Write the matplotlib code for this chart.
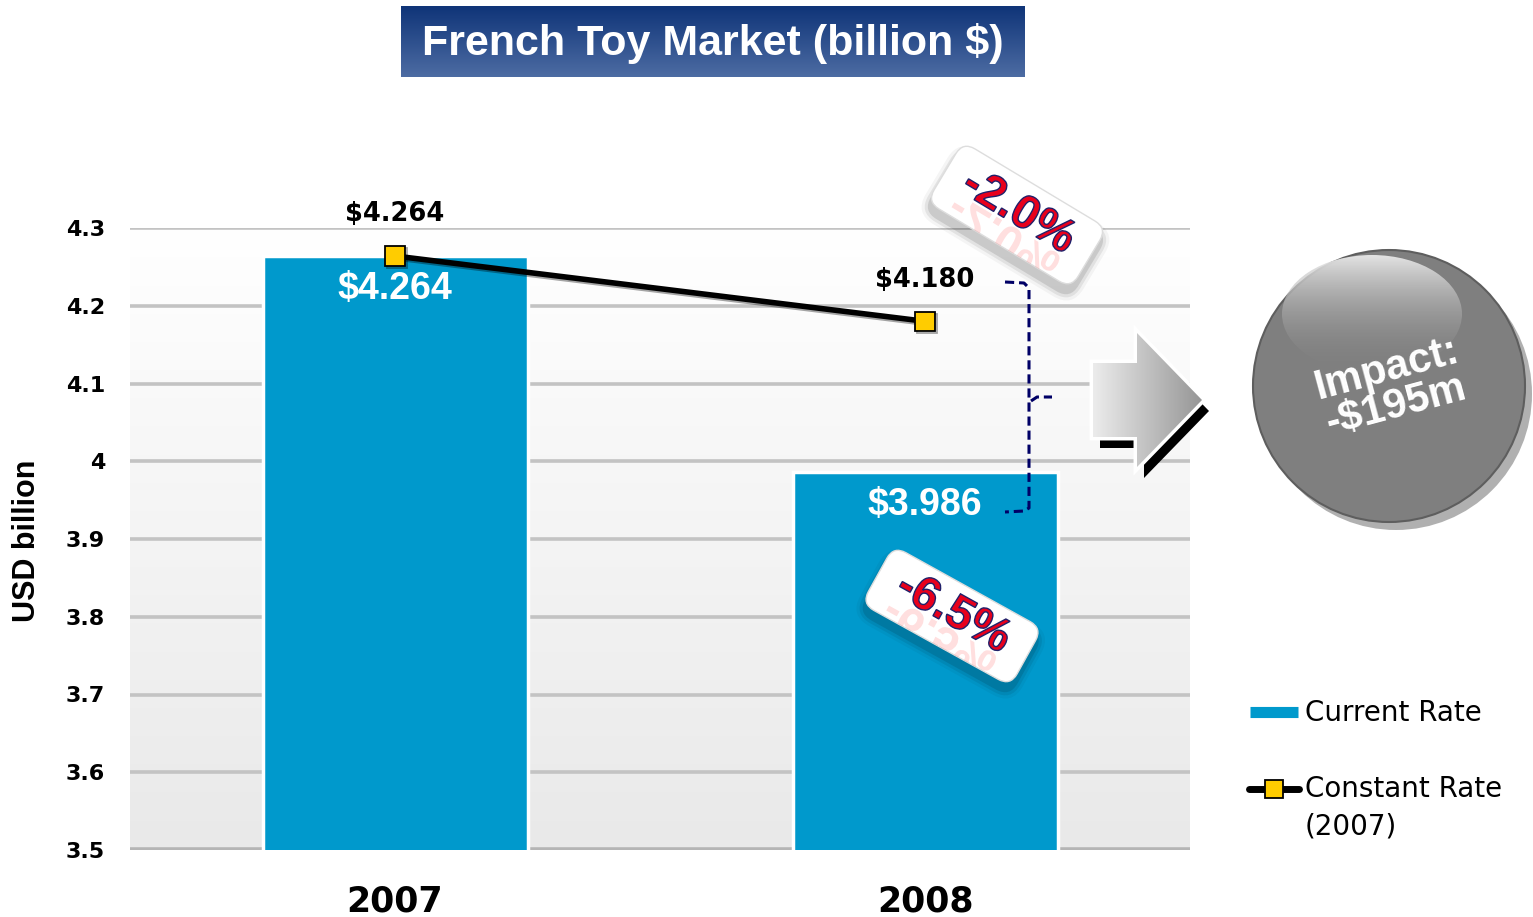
import numpy as np
import matplotlib
matplotlib.use("Agg")
import matplotlib.pyplot as plt
from matplotlib.patches import FancyBboxPatch, Polygon, Circle, Ellipse, Rectangle, PathPatch
from matplotlib.transforms import Affine2D
from matplotlib.textpath import TextPath
from matplotlib.font_manager import FontProperties
from matplotlib.colors import to_rgba
import matplotlib.patheffects as pe

# ---- data ----
years = ["2007", "2008"]
current_rate = [4.264, 3.986]
constant_rate = [4.264, 4.180]
y_ticks = [3.5, 3.6, 3.7, 3.8, 3.9, 4.0, 4.1, 4.2, 4.3]
y_tick_labels = ["3.5", "3.6", "3.7", "3.8", "3.9", "4", "4.1", "4.2", "4.3"]
constant_change = "-2.0%"
current_change = "-6.5%"
impact_text = "Impact:\n-$195m"
title_text = "French Toy Market (billion $)"
legend_labels = ["Current Rate", "Constant Rate\n(2007)"]

BAR_BLUE = "#0099cc"
MARKER_YELLOW = "#ffcc00"
ARIAL = "Liberation Sans"
VERDANA = "DejaVu Sans"

W, H = 1533, 917
fig = plt.figure(figsize=(W / 100, H / 100), dpi=100)
fig.patch.set_facecolor("white")

# ---- main chart ----
ax = fig.add_axes([130 / W, 1 - 850 / H, 1060 / W, 622 / H])
ax.set_xlim(-0.5, 1.5)
ax.set_ylim(3.5, 4.3)

# soft vertical gradient in the plot area
n = 256
t = np.linspace(0, 1, n)[:, None]
top_c = np.array(to_rgba("#ffffff"))
bot_c = np.array(to_rgba("#e9e9e9"))
bg = (top_c + (bot_c - top_c) * t)[:, None, :]
ax.imshow(bg, extent=(-0.5, 1.5, 3.5, 4.3), aspect="auto", origin="upper",
          zorder=0, interpolation="bicubic")

for yv in y_ticks[1:]:
    ax.axhline(yv, color="#c3c3c3", lw=2.6, zorder=1)
ax.axhline(3.5, color="#b5b5b5", lw=4, zorder=1)

x = np.arange(len(years))
ax.bar(x, current_rate, width=0.5, color=BAR_BLUE, edgecolor="white",
       linewidth=2.5, zorder=2)

ax.plot(x, constant_rate, color="black", lw=4, marker="s", ms=14,
        mfc=MARKER_YELLOW, mec="black", mew=1.3, zorder=4,
        path_effects=[pe.SimpleLineShadow(offset=(1.5, -1.5), alpha=0.35),
                      pe.Normal()])

for xi, v in zip(x, constant_rate):
    ax.annotate(f"${v:.3f}", (xi, v), xytext=(0, 30), textcoords="offset points",
                ha="center", va="center", fontsize=18.5, fontweight="bold",
                family=VERDANA, color="black", zorder=6)
for xi, v in zip(x, current_rate):
    ax.annotate(f"${v:.3f}", (xi, v), xytext=(0, -24), textcoords="offset points",
                ha="center", va="center", fontsize=27, fontweight="bold",
                family=ARIAL, color="white", zorder=6)

ax.set_yticks(y_ticks)
ax.set_yticklabels(y_tick_labels, fontsize=16, fontweight="bold", family=VERDANA)
ax.set_xticks(x)
ax.set_xticklabels(years, fontsize=25, fontweight="bold", family=VERDANA)
ax.tick_params(axis="y", length=0, pad=18)
ax.tick_params(axis="x", length=0, pad=25)
for s in ax.spines.values():
    s.set_visible(False)

fig.text(27 / W, 1 - 541 / H, "USD billion", rotation=90, ha="center", va="center",
         fontsize=22, fontweight="bold", family=ARIAL)

# ---- overlay in pixel coordinates for callouts ----
ov = fig.add_axes([0, 0, 1, 1])
ov.set_zorder(5)
ov.patch.set_alpha(0)
ov.axis("off")


def gradient_fill(patch, extent, c0, c1, vertical=True, z=1, alpha_end=None):
    ov.add_patch(patch)
    tt = np.linspace(0, 1, 256)[:, None]
    a = np.array(to_rgba(c0))
    b = np.array(to_rgba(c1))
    if alpha_end is not None:
        b[3] = alpha_end
    arr = a + (b - a) * tt
    img = arr[:, None, :] if vertical else arr[None, :, :]
    im = ov.imshow(img, extent=extent, aspect="auto", origin="upper",
                   zorder=z, interpolation="bicubic")
    im.set_clip_path(patch)
    return im


# title banner
title_box = Rectangle((401, 6), 624, 71, fc="none", ec="none", zorder=2)
gradient_fill(title_box, (401, 1025, 77, 6), "#0f3478", "#4d6ca3", z=2)
ov.text(713, 43, title_text, color="white", fontsize=31, fontweight="bold",
        family=ARIAL, ha="center", va="center", zorder=3)


def tag(cx, cy, w, h, angle, text, fs):
    rot = Affine2D().rotate_deg_around(cx, cy, angle) + ov.transData
    for grow, a in [(8, 0.04), (5, 0.07), (2, 0.11)]:
        sh = FancyBboxPatch((cx - w / 2 - grow + 3, cy - h / 2 - grow + 8),
                            w + 2 * grow, h + 2 * grow,
                            boxstyle=f"round,pad=0,rounding_size={14 + grow}",
                            fc="black", ec="none", alpha=a, zorder=6)
        sh.set_transform(rot)
        ov.add_patch(sh)
    box = FancyBboxPatch((cx - w / 2, cy - h / 2), w, h,
                         boxstyle="round,pad=0,rounding_size=14",
                         fc="white", ec="#dddddd", lw=1, zorder=7)
    box.set_transform(rot)
    ov.add_patch(box)

    fs_px = fs * 100 / 72
    prop = FontProperties(family=ARIAL, weight="bold")
    tp = TextPath((0, 0), text, size=fs_px, prop=prop)
    ext = tp.get_extents()
    cap = fs_px * 0.72
    lift = 8
    base_y = cy - lift + cap / 2
    # faint mirrored copy under the label
    refl_tr = (Affine2D().translate(-(ext.x0 + ext.x1) / 2, 0)
               .translate(cx, base_y + 3)
               .rotate_deg_around(cx, cy, angle) + ov.transData)
    refl = PathPatch(tp, fc="#ff8080", ec="none", alpha=0.25, zorder=8)
    refl.set_transform(refl_tr)
    ov.add_patch(refl)
    refl.set_clip_path(box)
    # main label
    main_tr = (Affine2D().scale(1, -1).translate(-(ext.x0 + ext.x1) / 2, 0)
               .translate(cx, base_y)
               .rotate_deg_around(cx, cy, angle) + ov.transData)
    lab = PathPatch(tp, fc="#e8001c", ec="#20206a", lw=1.0, zorder=9)
    lab.set_transform(main_tr)
    ov.add_patch(lab)


tag(1017, 215, 168, 70, 31, constant_change, 34)
tag(952, 616, 170, 66, 29, current_change, 34)

# dashed bracket spanning the gap between the two rates
ov.plot([1005, 1024, 1029, 1029, 1024, 1005], [282, 283, 288, 508, 511, 512],
        color="#000066", lw=2.2, ls=(0, (3, 1.6)), zorder=4,
        solid_capstyle="butt")
ov.plot([1031, 1037, 1052], [401, 397, 397], color="#000066", lw=2.2,
        ls=(0, (3, 1.6)), zorder=4)

# block arrow
ax_c = 400
arrow_pts = np.array([[1093, 363], [1137, 363], [1137, 333], [1202, ax_c],
                      [1137, 467], [1137, 437], [1093, 437]])
shadow = Polygon(arrow_pts + np.array([7, 11]), closed=True, fc="black", ec="none",
                 zorder=2)
ov.add_patch(shadow)
outline = Polygon(arrow_pts, closed=True, fc="white", ec="white", lw=5, zorder=3)
ov.add_patch(outline)
arrow_body = Polygon(arrow_pts, closed=True, fc="none", ec="none", zorder=4)
gradient_fill(arrow_body, (1093, 1202, 467, 333), "#ececec", "#969696",
              vertical=False, z=4)

# impact sphere
cx_s, cy_s, r_s = 1389, 386, 136
ov.add_patch(Circle((cx_s + 7, cy_s + 8), r_s, fc="#b0b0b0", ec="none", zorder=2))
ov.add_patch(Circle((cx_s, cy_s), r_s, fc="#7f7f7f", ec="#5e5e5e", lw=1.5, zorder=3))
hl = Ellipse((1372, 314), 180, 118, fc="none", ec="none", zorder=4)
gradient_fill(hl, (1282, 1462, 373, 255), "#e4e4e4", "#7f7f7f", z=4, alpha_end=0.0)
ov.text(cx_s + 2, cy_s + 2, impact_text, rotation=15, rotation_mode="anchor",
        ha="center", va="center", color="white", fontsize=30, fontweight="bold",
        family=ARIAL, linespacing=0.92, multialignment="center", zorder=6)

# legend
ov.plot([1250, 1298], [712, 712], color=BAR_BLUE, lw=8, solid_capstyle="butt",
        zorder=4)
ov.text(1305, 713, legend_labels[0], fontsize=20, family=VERDANA, ha="left",
        va="center", zorder=4)
ov.plot([1249, 1299], [789, 789], color="black", lw=5, solid_capstyle="round",
        zorder=4)
ov.plot([1274], [789], marker="s", ms=13, mfc=MARKER_YELLOW, mec="black",
        mew=1.3, zorder=5)
ov.text(1305, 789, legend_labels[1].split("\n")[0], fontsize=20, family=VERDANA,
        ha="left", va="center", zorder=4)
ov.text(1305, 826, legend_labels[1].split("\n")[1], fontsize=20, family=VERDANA,
        ha="left", va="center", zorder=4)

ov.set_xlim(0, W)
ov.set_ylim(H, 0)

fig.savefig("out.png", dpi=100)
